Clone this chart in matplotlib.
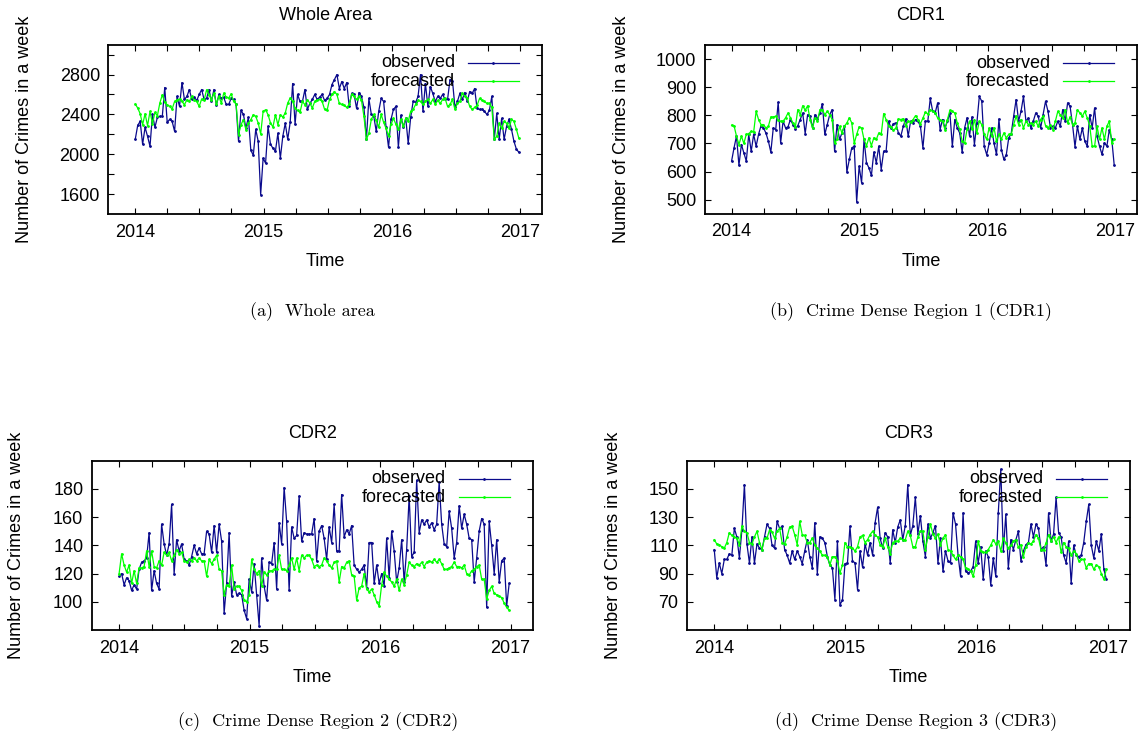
import numpy as np
import matplotlib
matplotlib.use("Agg")
import matplotlib.pyplot as plt
from matplotlib.ticker import FixedLocator

plt.rcParams['font.family'] = ['Liberation Sans', 'DejaVu Sans']

# ---------------- data ----------------
N_WEEKS = 157
START_YEAR = 2014
weeks = np.arange(N_WEEKS)
time = START_YEAR + weeks * 7 / 365.25

year_labels = ['2014', '2015', '2016', '2017']

whole_observed = [
    2150, 2290, 2330, 2100, 2270, 2180, 2080, 2400, 2270, 2370,
    2380, 2380, 2670, 2320, 2350, 2330, 2230, 2580, 2480, 2720,
    2550, 2580, 2650, 2550, 2570, 2540, 2600, 2650, 2550, 2560,
    2650, 2530, 2650, 2490, 2600, 2560, 2570, 2500, 2500, 2560,
    2550, 2500, 2130, 2440, 2400, 2260, 2370, 2040, 1990, 2250,
    2130, 1595, 1960, 1910, 2280, 2100, 2060, 2030, 2210, 1960,
    2180, 2310, 2150, 2320, 2710, 2300, 2600, 2530, 2530, 2650,
    2450, 2510, 2550, 2600, 2550, 2574, 2600, 2540, 2560, 2600,
    2700, 2750, 2800, 2660, 2730, 2660, 2720, 2480, 2610, 2600,
    2460, 2620, 2580, 2470, 2150, 2560, 2400, 2380, 2230, 2430,
    2560, 2530, 2270, 2070, 2350, 2450, 2480, 2070, 2390, 2270,
    2360, 2110, 2370, 2530, 2520, 2580, 2800, 2430, 2710, 2480,
    2680, 2610, 2530, 2580, 2560, 2600, 2550, 2550, 2750, 2740,
    2470, 2530, 2610, 2550, 2620, 2530, 2630, 2610, 2660, 2460,
    2450, 2450, 2430, 2400, 2440, 2580, 2150, 2410, 2150, 2360,
    2150, 2280, 2350, 2250, 2130, 2050, 2020]
whole_forecast = [
    2504, 2464, 2407, 2297, 2407, 2287, 2430, 2307, 2420, 2387,
    2514, 2597, 2520, 2497, 2480, 2454, 2530, 2547, 2554, 2530,
    2497, 2547, 2530, 2580, 2540, 2530, 2480, 2554, 2540, 2647,
    2597, 2547, 2614, 2507, 2580, 2514, 2614, 2574, 2564, 2607,
    2530, 2507, 2197, 2297, 2347, 2247, 2314, 2347, 2397, 2380,
    2314, 2204, 2430, 2447, 2397, 2314, 2274, 2397, 2297, 2397,
    2374, 2414, 2514, 2564, 2530, 2464, 2440, 2420, 2530, 2497,
    2547, 2514, 2464, 2530, 2547, 2550, 2530, 2450, 2440, 2550,
    2600, 2630, 2600, 2510, 2500, 2490, 2470, 2500, 2600, 2580,
    2550, 2580, 2540, 2380, 2150, 2210, 2350, 2400, 2340, 2270,
    2400, 2320, 2260, 2180, 2300, 2360, 2300, 2250, 2350, 2280,
    2360, 2330, 2430, 2450, 2500, 2540, 2530, 2500, 2530, 2550,
    2510, 2550, 2500, 2540, 2510, 2550, 2560, 2480, 2500, 2550,
    2450, 2510, 2530, 2610, 2580, 2560, 2480, 2450, 2470, 2490,
    2560, 2540, 2530, 2510, 2510, 2470, 2150, 2180, 2310, 2260,
    2330, 2310, 2260, 2350, 2330, 2250, 2160]

cdr1_observed = [
    637, 684, 726, 622, 696, 666, 637, 732, 672, 732,
    690, 732, 763, 755, 737, 708, 669, 755, 749, 846,
    702, 779, 755, 759, 785, 767, 752, 763, 785, 808,
    735, 802, 797, 755, 802, 787, 808, 841, 732, 767,
    802, 820, 672, 767, 714, 737, 763, 598, 643, 684,
    690, 492, 619, 560, 714, 631, 613, 586, 669, 631,
    690, 607, 672, 672, 779, 755, 770, 773, 737, 726,
    761, 787, 726, 779, 773, 785, 779, 761, 684, 779,
    779, 860, 814, 808, 844, 749, 785, 755, 779, 808,
    690, 785, 755, 737, 669, 755, 791, 726, 794, 696,
    773, 867, 850, 690, 660, 700, 755, 700, 661, 787,
    678, 643, 660, 720, 735, 797, 856, 779, 814, 867,
    779, 790, 755, 779, 808, 797, 755, 802, 850, 814,
    755, 761, 755, 779, 761, 820, 779, 844, 832, 767,
    688, 761, 714, 755, 708, 690, 802, 755, 826, 726,
    690, 661, 702, 690, 749, 714, 622]
cdr1_forecast = [
    765, 763, 726, 696, 726, 700, 732, 735, 743, 740,
    814, 785, 767, 767, 755, 761, 794, 794, 797, 782,
    779, 779, 791, 808, 791, 773, 759, 820, 802, 834,
    818, 834, 785, 755, 791, 779, 820, 820, 802, 814,
    802, 785, 702, 714, 761, 737, 761, 773, 791, 773,
    700, 732, 759, 755, 714, 692, 720, 692, 720, 714,
    737, 732, 806, 785, 763, 759, 747, 755, 787, 785,
    788, 763, 779, 775, 785, 799, 785, 770, 790, 811,
    805, 820, 814, 808, 791, 785, 779, 749, 785, 818,
    814, 808, 773, 750, 708, 700, 750, 779, 750, 785,
    737, 779, 767, 732, 714, 755, 726, 755, 708, 732,
    716, 737, 720, 732, 732, 767, 797, 767, 785, 755,
    779, 767, 773, 767, 779, 761, 785, 797, 763, 755,
    767, 749, 779, 814, 802, 791, 820, 773, 794, 767,
    773, 820, 808, 797, 814, 791, 763, 690, 690, 761,
    714, 755, 714, 761, 779, 702, 714]

cdr2_observed = [
    118, 120, 112, 117, 115, 108, 112, 109, 123, 128,
    129, 131, 149, 108, 122, 113, 109, 155, 141, 133,
    141, 169, 120, 144, 136, 141, 130, 129, 126, 132,
    140, 134, 138, 134, 134, 150, 148, 135, 154, 135,
    155, 143, 92, 113, 149, 104, 114, 105, 106, 105,
    94, 88, 116, 107, 127, 105, 83, 131, 111, 101,
    128, 127, 142, 109, 156, 141, 181, 157, 108, 153,
    145, 147, 175, 143, 149, 148, 148, 148, 159, 129,
    150, 154, 145, 130, 153, 142, 169, 136, 136, 176,
    146, 151, 148, 154, 126, 123, 121, 123, 126, 110,
    142, 142, 113, 126, 113, 120, 111, 145, 117, 150,
    136, 114, 124, 144, 114, 137, 175, 132, 135, 186,
    149, 158, 155, 158, 153, 156, 151, 155, 185, 155,
    141, 139, 164, 152, 131, 142, 168, 152, 162, 155,
    145, 144, 114, 131, 150, 159, 155, 96, 157, 140,
    120, 144, 114, 129, 131, 97, 113]
cdr2_forecast = [
    120, 134, 126, 121, 126, 113, 122, 113, 124, 124,
    125, 136, 125, 136, 125, 124, 129, 126, 135, 133,
    135, 129, 133, 137, 134, 135, 129, 128, 130, 129,
    131, 129, 131, 129, 129, 118, 130, 127, 130, 133,
    123, 122, 105, 112, 111, 126, 109, 111, 111, 108,
    101, 100, 105, 130, 123, 120, 122, 111, 121, 119,
    122, 122, 123, 123, 133, 123, 123, 122, 126, 131,
    123, 131, 122, 133, 131, 133, 133, 130, 125, 126,
    125, 126, 131, 129, 126, 124, 128, 129, 114, 125,
    124, 128, 129, 119, 118, 101, 110, 111, 120, 109,
    107, 109, 105, 100, 97, 112, 121, 118, 116, 114,
    111, 116, 108, 116, 112, 119, 128, 126, 125, 127,
    126, 128, 125, 128, 129, 128, 130, 128, 130, 127,
    123, 123, 124, 125, 128, 125, 125, 124, 126, 120,
    119, 122, 123, 125, 126, 116, 116, 102, 108, 111,
    106, 105, 104, 103, 99, 96, 94]

cdr3_observed = [
    107, 87, 97.5, 90, 100, 100, 104, 103, 122, 116,
    101, 121, 153, 111, 97.5, 116, 97.5, 111, 108, 107,
    116, 125, 122, 110, 108, 127, 122, 123.5, 107, 103,
    97.5, 106, 100, 106, 102, 97, 106, 114, 102, 94,
    126, 90, 116, 115, 112, 102, 96, 94, 71.5, 113,
    68, 71, 97, 97.5, 123.5, 99, 97.5, 78.6, 106, 94.4,
    111, 103, 112, 103, 126, 137, 115, 108, 119, 116,
    97.5, 121, 112, 123, 128, 114, 124, 153, 117, 124,
    144, 118, 131, 113, 102, 125, 115, 119, 124, 97.5,
    115, 91.6, 106, 99, 97.5, 133, 125, 103, 88, 133,
    91.6, 90.4, 91.6, 95, 113, 97.5, 109, 86, 106, 102,
    82, 101, 88, 133, 164, 106, 132, 94, 114, 107,
    114, 120, 99, 106, 110.5, 112, 125, 116, 125, 122,
    107, 109, 96, 133, 113, 118, 144, 119, 116, 103,
    97.5, 113, 83, 110, 103, 102, 103, 112, 127, 139,
    110, 101, 113, 106, 118, 93, 86]
cdr3_forecast = [
    114, 111, 110.5, 109, 108, 112, 119, 117, 116, 115,
    110.5, 123.5, 120, 119, 112, 111, 116, 120, 112, 107,
    115, 115, 121, 119.5, 115, 120, 122, 112, 111, 116,
    123, 123.5, 117.6, 110.5, 127, 117.6, 117, 112, 112, 115,
    110.5, 108, 106, 103, 103, 102, 96, 102, 102, 99,
    90.4, 96, 112, 109, 109, 108, 106, 109, 116, 117,
    112, 114, 117.6, 120, 117, 116, 110.5, 109, 115, 109,
    104, 112, 113, 113, 115, 114, 114, 120, 117, 109,
    109, 116, 120, 120, 107, 116, 125, 118, 115, 118,
    110.5, 115, 117.6, 107, 106, 103, 100, 103, 102, 100,
    94, 93, 92, 88, 96, 113, 106, 105, 105, 107,
    110, 114, 111, 113, 106, 115, 111.7, 108, 110, 113,
    114, 108.6, 110.5, 102, 109, 111.7, 111, 113, 117.6, 115,
    107, 107, 111.7, 117.6, 113, 116, 112, 116, 105, 112,
    109, 108, 103, 106, 104, 99, 100, 100, 94, 97,
    97, 93, 96, 95, 90, 86, 93]

titles = ['Whole Area', 'CDR1', 'CDR2', 'CDR3']
captions = ['(a)  Whole area', '(b)  Crime Dense Region 1 (CDR1)',
            '(c)  Crime Dense Region 2 (CDR2)', '(d)  Crime Dense Region 3 (CDR3)']
series_names = ['observed', 'forecasted']
y_ticks = [list(range(1600, 3001, 200)), list(range(500, 1001, 100)),
           list(range(100, 181, 20)), list(range(70, 151, 20))]
y_tick_labels = [['1600', '', '2000', '', '2400', '', '2800', ''],
                 ['500', '600', '700', '800', '900', '1000'],
                 ['100', '120', '140', '160', '180'],
                 ['70', '90', '110', '130', '150']]
y_limits = [(1400, 3100), (450, 1050), (80, 200), (50, 170)]
observed = [whole_observed, cdr1_observed, cdr2_observed, cdr3_observed]
forecast = [whole_forecast, cdr1_forecast, cdr2_forecast, cdr3_forecast]

# ---------------- layout ----------------
W, H = 1142, 739
OBS_COLOR = '#0a0a8c'
FC_COLOR = '#00ff00'
LW = 0.9
MS = 1.0

# frame rectangles in pixels: left, top, right, bottom
frames = [(108.3, 44.7, 542.0, 214.0), (704.7, 45.0, 1137.3, 213.7),
          (91.7, 460.7, 532.7, 630.0), (686.7, 460.7, 1130.0, 630.0)]
ylabel_x_px = [25, 621, 17, 614]
caption_pos = [(312, 312), (911, 312), (318, 722), (916, 722)]

fig = plt.figure(figsize=(W / 100, H / 100), dpi=100)

for k in range(4):
    l, t, r, b = frames[k]
    ax = fig.add_axes([l / W, 1 - b / H, (r - l) / W, (b - t) / H])
    ax.plot(time, observed[k], color=OBS_COLOR, lw=LW, marker='o', ms=MS,
            label=series_names[0])
    ax.plot(time, forecast[k], color=FC_COLOR, lw=LW, marker='o', ms=MS,
            label=series_names[1])
    ax.set_xlim(2013.79, 2017.17)
    ax.set_ylim(*y_limits[k])

    ax.xaxis.set_major_locator(FixedLocator([2014, 2015, 2016, 2017]))
    ax.set_xticklabels(year_labels)
    ax.xaxis.set_minor_locator(FixedLocator(
        [y + q for y in range(2014, 2017) for q in (0.25, 0.5, 0.75)]))
    ax.yaxis.set_major_locator(FixedLocator(y_ticks[k]))
    ax.set_yticklabels(y_tick_labels[k])
    ax.tick_params(which='both', direction='in', top=True, right=True,
                   length=4.3, width=0.8, labelsize=13, colors='black')
    ax.tick_params(axis='x', pad=7)
    ax.tick_params(axis='y', pad=6)
    for sp in ax.spines.values():
        sp.set_linewidth(1.3)

    ax.set_xlabel('Time', fontsize=13, va='center')
    ax.xaxis.set_label_coords(0.5, (b - 261) / (b - t) if k < 2 else (b - 677) / (b - t))
    ax.set_ylabel('Number of Crimes in a week', fontsize=13, va='center')
    ax.yaxis.set_label_coords((ylabel_x_px[k] - l) / (r - l), 0.5)
    ax.text(0.5, (b - (16 if k < 2 else 433)) / (b - t), titles[k],
            transform=ax.transAxes, ha='center', va='center', fontsize=13)

    # gnuplot-style key: right-justified text, sample on the right
    pw = r - l
    for j, (name, col) in enumerate(zip(series_names, [OBS_COLOR, FC_COLOR])):
        yy = (b - (t + 18 + 18.3 * j)) / (b - t)
        ax.text((pw - 87) / pw, yy, name, transform=ax.transAxes,
                ha='right', va='center', fontsize=13)
        x0, x1 = (pw - 74) / pw, (pw - 23) / pw
        ax.plot([x0, x1], [yy, yy], transform=ax.transAxes, color=col, lw=LW)
        ax.plot([(x0 + x1) / 2], [yy], transform=ax.transAxes, color=col,
                marker='o', ms=MS)

for k in range(4):
    cx, cy = caption_pos[k]
    fig.text(cx / W, 1 - cy / H, captions[k], ha='center', va='center',
             fontsize=13, family='cmr10')

fig.savefig('out.png', dpi=100)
